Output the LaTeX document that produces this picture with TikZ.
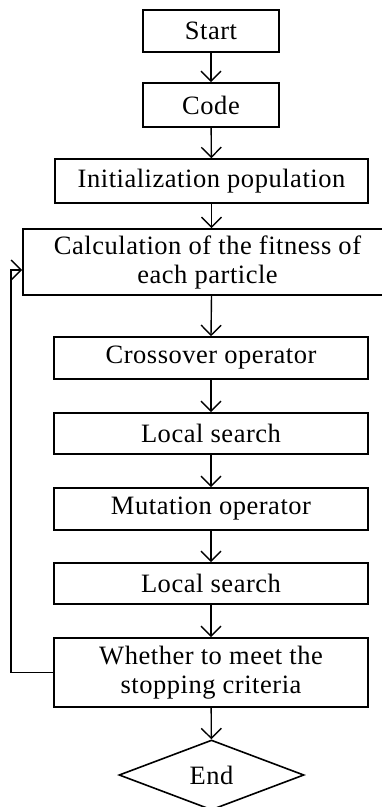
\documentclass[tikz,border=0pt]{standalone}
\usepackage{fontspec}
\setmainfont[LetterSpace=2]{Liberation Serif}
\usetikzlibrary{arrows.meta,shapes.geometric}
\begin{document}
\begin{tikzpicture}[x=1pt,y=-1pt,
  box/.style={draw,line width=1.6pt,inner sep=0pt,align=center,font=\fontsize{26.5}{29}\selectfont},
  arr/.style={line width=1.4pt,-{Straight Barb[length=10pt,width=20pt,line width=1.4pt]}}]
\useasboundingbox (0,0) rectangle (382,807);
\node[box,minimum width=136,minimum height=42] (start) at (211,31) {Start};
\node[box,minimum width=136,minimum height=44] (code) at (211,105) {Code};
\node[box,minimum width=313,minimum height=44] (init) at (211.5,181) {Initialization population};
\node[box,minimum width=369,minimum height=66] (calc) at (207.5,262) {Calculation of the fitness of\\each particle};
\node[box,minimum width=314,minimum height=42] (cross) at (211,358) {Crossover operator};
\node[box,minimum width=314,minimum height=41] (ls1) at (211,433.5) {Local search};
\node[box,minimum width=314,minimum height=42] (mut) at (211,509) {Mutation operator};
\node[box,minimum width=314,minimum height=41] (ls2) at (211,583.5) {Local search};
\node[box,minimum width=314,minimum height=69] (wh) at (211,672.5) {Whether to meet the\\stopping criteria};
\node[box,diamond,minimum width=185,minimum height=70] (end) at (211.5,775) {End};
\coordinate (cin) at (calc.west |- 0,270);
\draw[arr] (start) -- (code);
\draw[arr] (code) -- (init);
\draw[arr] (init.south) -- (init.south |- calc.north);
\draw[arr] (init.south |- calc.south) -- (cross.north);
\draw[arr] (cross) -- (ls1);
\draw[arr] (ls1) -- (mut);
\draw[arr] (mut) -- (ls2);
\draw[arr] (ls2) -- (wh);
\draw[arr] (wh) -- (end);
\draw[arr] (wh.west) -- (11,672.5) -- (11,270) -- (cin);
\end{tikzpicture}
\end{document}
